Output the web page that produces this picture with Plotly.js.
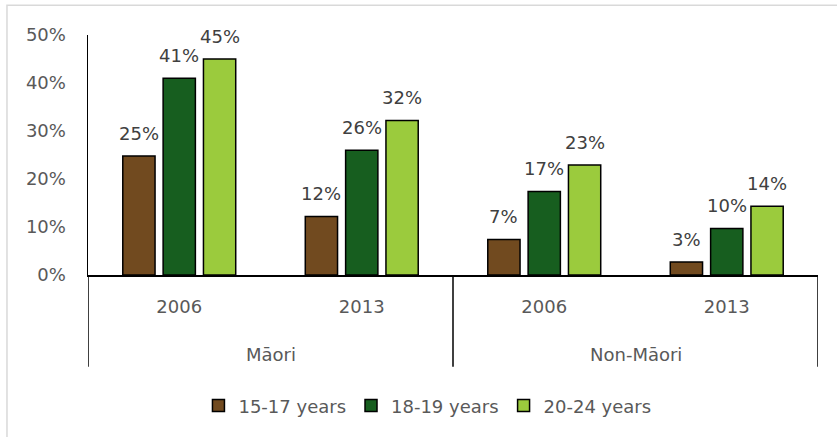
<!DOCTYPE html>
<html>
<head>
<meta charset="utf-8">
<script src="https://cdn.plot.ly/plotly-3.0.1.min.js"></script>
<style>html,body{margin:0;padding:0;background:#fff;}#chart{width:837px;height:437px;}</style>
</head>
<body>
<div id="chart"></div>
<script>
const groups = ["Māori", "Māori", "Non-Māori", "Non-Māori"];
const years = ["2006", "2013", "2006", "2013"];
const groupNames = ["Māori", "Non-Māori"];
const seriesNames = ["15-17 years", "18-19 years", "20-24 years"];
const age15to17 = [0.248, 0.122, 0.074, 0.027];
const age18to19 = [0.410, 0.260, 0.174, 0.097];
const age20to24 = [0.450, 0.322, 0.229, 0.143];
const yTickVals = [0, 0.1, 0.2, 0.3, 0.4, 0.5];
const yTickText = ["0%", "10%", "20%", "30%", "40%", "50%"];

const colors = ["#714A1F", "#175E1F", "#9BCB3D"];
const FONT = "'DejaVu Sans', sans-serif";
const FS = 18;
const values = [age15to17, age18to19, age20to24];
const BARGAP = 0.337, BARGROUPGAP = 0.2;

// unique category keys (group + year) so both 2006/2013 pairs are distinct
const cats = groups.map((g, i) => g + " " + years[i]);

const traces = values.map((v, i) => ({
  type: "bar",
  name: seriesNames[i],
  x: cats,
  y: v,
  marker: {color: colors[i], line: {color: "#000000", width: 1.5}},
  hoverinfo: "skip"
}));

// data labels as annotations derived from the data arrays
const slot = (1 - BARGAP) / values.length;
const annotations = [];
values.forEach((v, i) => {
  v.forEach((d, k) => {
    annotations.push({
      xref: "x", yref: "y",
      x: k + (i - (values.length - 1) / 2) * slot,
      y: d,
      text: Math.round(d * 100) + "%",
      showarrow: false,
      yanchor: "bottom", xanchor: "center",
      yshift: 10,
      font: {family: FONT, size: FS, color: "#404040"}
    });
  });
});
// group (outer category) labels
groupNames.forEach((g, j) => {
  const idx = groups.map((x, k) => x === g ? k : -1).filter(k => k >= 0);
  const mid = (idx[0] + idx[idx.length - 1]) / 2;
  annotations.push({
    xref: "x", yref: "paper", x: mid, y: -0.33,
    text: g, showarrow: false, xanchor: "center", yanchor: "middle",
    font: {family: FONT, size: FS, color: "#595959"}
  });
});

// group dividers at outer category boundaries
const shapes = [
  {type: "rect", xref: "paper", yref: "paper", x0: -0.111, x1: 1.3, y0: -1.5, y1: 1.124,
   line: {color: "#D9D9D9", width: 1.5}, fillcolor: "rgba(0,0,0,0)", layer: "below"}
];
const bounds = [-0.5];
groups.forEach((g, k) => { if (k < groups.length - 1 && groups[k + 1] !== g) bounds.push(k + 0.5); });
bounds.push(groups.length - 0.5);
bounds.forEach(b => shapes.push({
  type: "line", xref: "x", yref: "paper", x0: b, x1: b, y0: 0, y1: -0.382,
  line: {color: "#000000", width: 1.5}
}));

const layout = {
  width: 837, height: 437,
  margin: {l: 88, r: 19, t: 35, b: 160},
  paper_bgcolor: "#ffffff", plot_bgcolor: "#ffffff",
  barmode: "group",
  bargap: BARGAP,
  bargroupgap: BARGROUPGAP,
  font: {family: FONT, size: FS, color: "#595959"},
  xaxis: {
    type: "category",
    range: [-0.5, cats.length - 0.5],
    tickvals: cats, ticktext: years,
    showline: true, linecolor: "#000000", linewidth: 1.5,
    showgrid: false, zeroline: false,
    ticks: "", ticklabelstandoff: 15,
    tickfont: {family: FONT, size: FS, color: "#595959"}
  },
  yaxis: {
    range: [0, 0.5],
    tickvals: yTickVals, ticktext: yTickText,
    showline: true, linecolor: "#000000", linewidth: 1.5,
    showgrid: false, zeroline: false,
    ticks: "", ticklabelstandoff: 17,
    tickfont: {family: FONT, size: FS, color: "#595959"}
  },
  showlegend: true,
  legend: {
    orientation: "h", x: 0.465, xanchor: "center", y: -0.545, yanchor: "middle",
    font: {family: FONT, size: FS, color: "#595959"},
    itemclick: false, traceorder: "normal"
  },
  annotations: annotations,
  shapes: shapes
};

Plotly.newPlot("chart", traces, layout, {displayModeBar: false, staticPlot: true});
</script>
</body>
</html>
